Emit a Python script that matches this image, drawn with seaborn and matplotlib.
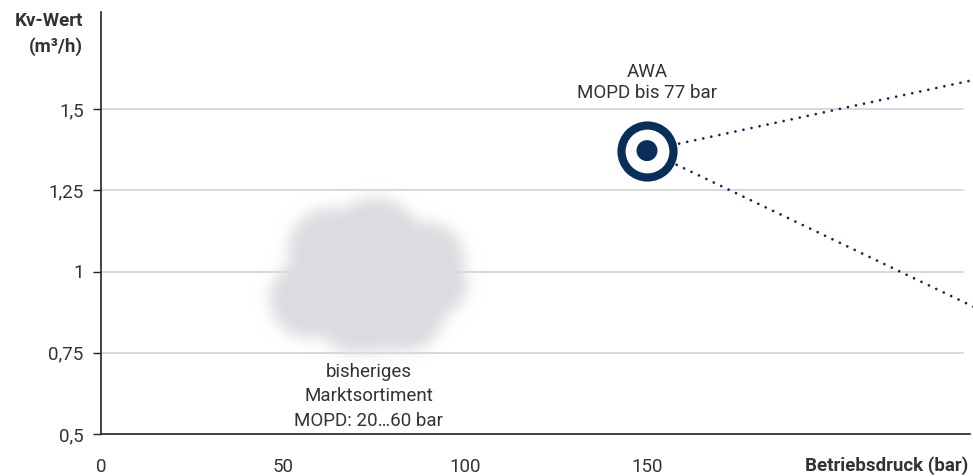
import numpy as np
import pandas as pd
import matplotlib
matplotlib.use("Agg")
import matplotlib.pyplot as plt
import seaborn as sns

# ---- data ----
x_ticks = [0, 50, 100, 150]
x_tick_labels = ["0", "50", "100", "150"]
y_ticks = [0.5, 0.75, 1.0, 1.25, 1.5]
y_tick_labels = ["0,5", "0,75", "1", "1,25", "1,5"]
grid_levels = [0.75, 1.0, 1.25, 1.5]

awa_x = [150]
awa_y = [1.372]
upper_line_x = [150, 240]
upper_line_y = [1.372, 1.59]
lower_line_x = [150, 240]
lower_line_y = [1.372, 0.89]

cloud_label = "bisheriges\nMarktsortiment\nMOPD: 20\u202660 bar"
awa_label = "AWA\nMOPD bis 77 bar"
cloud_label_pos = (73.5, 0.719)
awa_label_pos = (150, 1.523)

# cloud blobs (center x bar, center y, radius in bar-units along x)
cloud_cx = [73.9, 62.9, 75.3, 89.0, 91.8, 57.4, 69.8, 83.5]
cloud_cy = [0.950, 1.066, 1.082, 1.029, 0.958, 0.915, 0.862, 0.877]
cloud_r = [17.9, 11.5, 12.9, 11.0, 8.8, 11.0, 10.2, 11.0]

NAVY = "#0b2d5b"
TEXT = "#333333"
GRID = "#d4d6d9"
FS = 13.5

sns.set_theme(style="white")
plt.rcParams["font.family"] = ["Roboto", "DejaVu Sans"]

fig = plt.figure(figsize=(9.73, 4.76), dpi=100)
W, H = 973, 476
ax_left, ax_right, ax_bottom, ax_top = 101, 970, 434, 12
ax = fig.add_axes([ax_left / W, 1 - ax_bottom / H, (ax_right - ax_left) / W, (ax_bottom - ax_top) / H])

px_per_bar = 3.64
px_per_unit_y = 325.0
xmax = (ax_right - ax_left) / px_per_bar
ymax = 0.5 + (ax_bottom - ax_top) / px_per_unit_y
ax.set_xlim(0, xmax)
ax.set_ylim(0.5, ymax)

for g in grid_levels:
    ax.axhline(g, color=GRID, lw=1.3, zorder=1, xmax=(963 - ax_left) / (ax_right - ax_left))

# cloud image (blurred union of circles)
xs = np.linspace(35, 115, 400)
ys = np.linspace(0.64, 1.32, 350)
XX, YY = np.meshgrid(xs, ys)
mask = np.zeros_like(XX)
aspect = px_per_unit_y / px_per_bar
for cx, cy, r in zip(cloud_cx, cloud_cy, cloud_r):
    d = np.sqrt((XX - cx) ** 2 + ((YY - cy) * aspect) ** 2)
    mask = np.maximum(mask, (d <= r).astype(float))

def blur1d(a, sigma, axis):
    rad = int(3 * sigma)
    k = np.exp(-0.5 * (np.arange(-rad, rad + 1) / sigma) ** 2)
    k /= k.sum()
    return np.apply_along_axis(lambda v: np.convolve(v, k, mode="same"), axis, a)

sigma_bar = 1.9
sx = sigma_bar / (xs[1] - xs[0])
sy = (sigma_bar / aspect) / (ys[1] - ys[0])
blurred = blur1d(blur1d(mask, sx, 1), sy, 0)
img = np.zeros(blurred.shape + (4,))
img[..., 0] = 0.862
img[..., 1] = 0.866
img[..., 2] = 0.875
img[..., 3] = np.clip(blurred, 0, 1)
ax.imshow(img, extent=[xs[0], xs[-1], ys[0], ys[-1]], origin="lower", aspect="auto",
          zorder=2, interpolation="bilinear")

# dotted lines
lines = pd.DataFrame({
    "x": upper_line_x + lower_line_x,
    "y": upper_line_y + lower_line_y,
    "seg": ["u", "u", "l", "l"],
})
for seg, sub in lines.groupby("seg"):
    sns.lineplot(data=sub, x="x", y="y", ax=ax, color=NAVY, lw=2.0,
                 linestyle=(0, (0.01, 2.95)), dash_capstyle="round", zorder=3,
                 clip_on=False, sort=False, estimator=None)

# target marker
ax.scatter(awa_x, awa_y, s=1400, facecolor="white", edgecolor=NAVY, linewidth=5.9, zorder=4, clip_on=False)
ax.scatter(awa_x, awa_y, s=228, facecolor=NAVY, edgecolor="none", zorder=5)

# labels
ax.text(*awa_label_pos, awa_label, ha="center", va="bottom", fontsize=FS, color=TEXT, linespacing=1.15)
ax.text(*cloud_label_pos, cloud_label, ha="center", va="top", fontsize=FS, color=TEXT, linespacing=1.47)

# axes styling
for s in ["top", "right"]:
    ax.spines[s].set_visible(False)
for s in ["left", "bottom"]:
    ax.spines[s].set_color("#222222")
    ax.spines[s].set_linewidth(1.2)
ax.set_xticks(x_ticks)
ax.set_xticklabels(x_tick_labels)
ax.set_yticks(y_ticks)
ax.set_yticklabels(y_tick_labels)
ax.tick_params(axis="y", length=6, width=1.0, color="#222222", pad=6.5, labelsize=FS, labelcolor=TEXT, left=True)
ax.tick_params(axis="x", length=0, pad=17, labelsize=FS, labelcolor=TEXT)
ax.set_xlabel("")
ax.set_ylabel("")

fig.text(83 / W, 1 - 12 / H, "Kv-Wert\n(m\u00b3/h)", ha="right", va="top", fontsize=FS,
         fontweight="bold", color=TEXT, linespacing=1.5)
fig.text(968 / W, 1 - 466 / H, "Betriebsdruck (bar)", ha="right", va="center", fontsize=FS,
         fontweight="bold", color=TEXT)

fig.savefig("out.png", dpi=100)
